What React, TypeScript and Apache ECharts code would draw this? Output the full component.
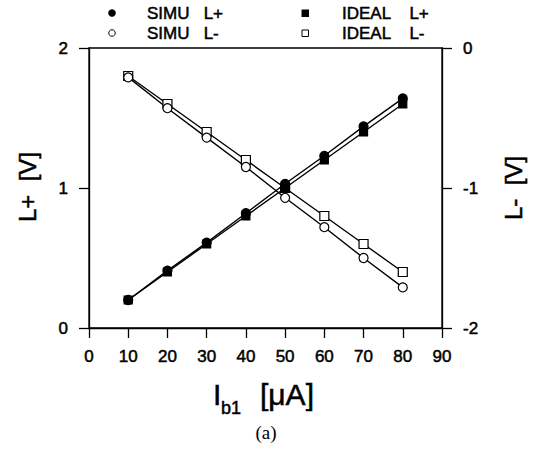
import React, { useEffect, useRef } from "react";
import * as echarts from "echarts";

const xValues = [10, 20, 30, 40, 50, 60, 70, 80];
const simuLPlus = [0.2, 0.41, 0.61, 0.82, 1.03, 1.23, 1.44, 1.64];
const idealLPlus = [0.2, 0.4, 0.6, 0.8, 1.0, 1.2, 1.4, 1.6];
const simuLMinus = [-0.21, -0.43, -0.64, -0.85, -1.07, -1.28, -1.5, -1.71];
const idealLMinus = [-0.2, -0.4, -0.6, -0.8, -1.0, -1.2, -1.4, -1.6];

const FONT = "Liberation Sans";

const pairs = (ys: number[]) => xValues.map((x, i) => [x, ys[i]]);

export default function App() {
  const ref = useRef<HTMLDivElement>(null);
  useEffect(() => {
    document.body.style.margin = "0";
    const chart = echarts.init(ref.current!, null, { renderer: "svg" });
    const axisCommon = {
      axisLine: { show: true, lineStyle: { color: "#000", width: 1.3 } },
      axisTick: { show: true, inside: false, length: 10, lineStyle: { color: "#000", width: 1.3 } },
      splitLine: { show: false },
      axisLabel: { color: "#000", fontSize: 17, fontFamily: FONT, textBorderColor: "#000", textBorderWidth: 0.5 },
    };
    const lineSeries = (name: string, data: number[], yAxisIndex: number, symbol: string, filled: boolean, size: number) => ({
      name,
      type: "line",
      yAxisIndex,
      data: pairs(data),
      symbol,
      symbolSize: size,
      showAllSymbol: true,
      lineStyle: { color: "#000", width: 1.4 },
      itemStyle: { color: filled ? "#000" : "#fff", borderColor: "#000", borderWidth: 1.2 },
      z: filled ? 3 : 2,
    });
    const t = (x: number, y: number, text: string, fontSize: number, extra: any = {}) => ({
      type: "text",
      x,
      y,
      ...(extra.rotation !== undefined ? { rotation: extra.rotation } : {}),
      style: {
        text,
        fontSize,
        fontFamily: FONT,
        fill: "#000",
        stroke: "#000",
        lineWidth: 0.5,
        verticalAlign: "middle",
        ...(extra.style || {}),
      },
    });
    chart.setOption({
      animation: false,
      backgroundColor: "#fff",
      grid: { left: 89, right: 99, top: 48, bottom: 136, show: true, borderColor: "#000", borderWidth: 1.3 },
      xAxis: {
        type: "value",
        min: 0,
        max: 90,
        interval: 10,
        ...axisCommon,
        axisLabel: { ...axisCommon.axisLabel, margin: 20 },
      },
      yAxis: [
        {
          type: "value",
          min: 0,
          max: 2,
          interval: 1,
          position: "left",
          ...axisCommon,
          axisLabel: { ...axisCommon.axisLabel, margin: 21 },
        },
        {
          type: "value",
          min: -2,
          max: 0,
          interval: 1,
          position: "right",
          ...axisCommon,
          axisLabel: { ...axisCommon.axisLabel, margin: 21 },
        },
      ],
      series: [
        lineSeries("IDEAL L+", idealLPlus, 0, "rect", true, 8),
        lineSeries("SIMU L+", simuLPlus, 0, "circle", true, 9),
        lineSeries("IDEAL L-", idealLMinus, 1, "rect", false, 9),
        lineSeries("SIMU L-", simuLMinus, 1, "circle", false, 9),
      ],
      graphic: [
        { type: "circle", shape: { cx: 112, cy: 13, r: 3.8 }, style: { fill: "#000" } },
        t(147, 13, "SIMU   L+", 17),
        { type: "rect", shape: { x: 301.5, y: 9.5, width: 7.5, height: 7.5 }, style: { fill: "#000" } },
        t(342, 13, "IDEAL    L+", 17),
        { type: "circle", shape: { cx: 112, cy: 33, r: 3.3 }, style: { fill: "#fff", stroke: "#000", lineWidth: 1 } },
        t(147, 33, "SIMU   L-", 17),
        { type: "rect", shape: { x: 302, y: 30, width: 6.5, height: 6.5 }, style: { fill: "#fff", stroke: "#000", lineWidth: 1 } },
        t(342, 33, "IDEAL    L-", 17),
        t(27, 187, "L+  [V]", 24, { rotation: Math.PI / 2, style: { align: "center" } }),
        t(513, 188, "L-  [V]", 24, { rotation: Math.PI / 2, style: { align: "center" } }),
        t(213, 409, "I", 30, { style: { verticalAlign: "bottom" } }),
        t(221, 417, "b1", 18, { style: { verticalAlign: "bottom" } }),
        t(260, 409, "[μA]", 30, { style: { verticalAlign: "bottom" } }),
        {
          type: "text",
          x: 266,
          y: 432,
          style: { text: "(a)", fontSize: 19, fontFamily: "Liberation Serif", fill: "#000", align: "center", verticalAlign: "middle" },
        },
      ],
    });
    return () => chart.dispose();
  }, []);
  return <div ref={ref} style={{ width: 541, height: 464 }} />;
}
